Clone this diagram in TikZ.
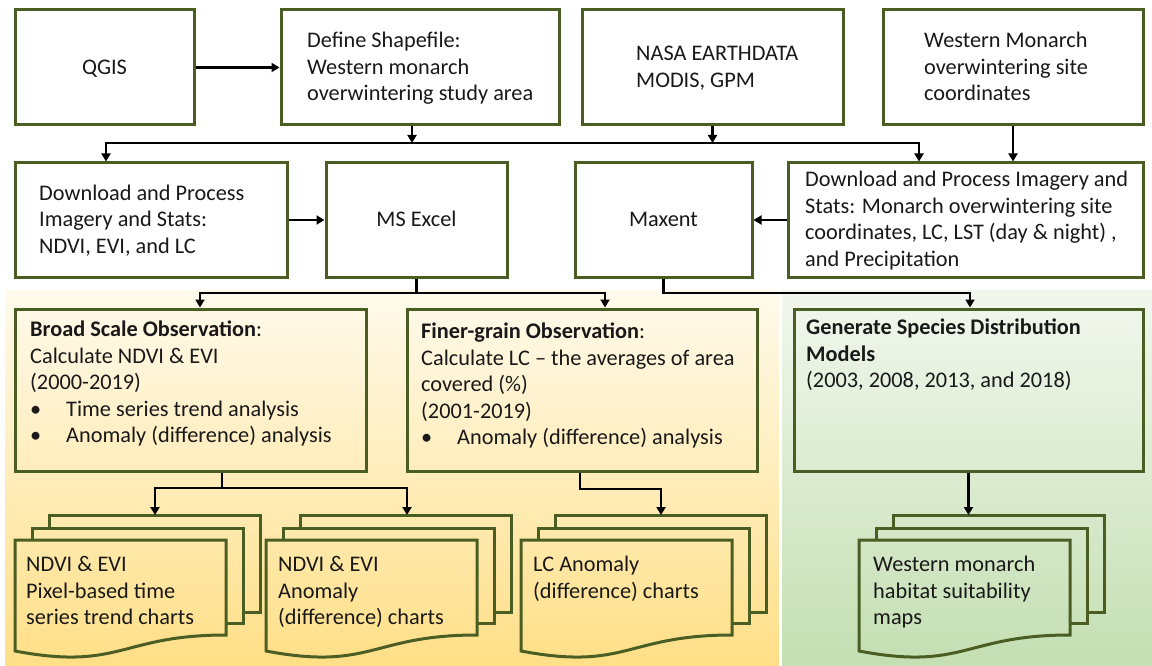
\documentclass[tikz,border=0pt]{standalone}
\usepackage{fontspec}
\setmainfont{Carlito}
\usetikzlibrary{arrows.meta}
\definecolor{boxc}{RGB}{74,94,35}
\definecolor{txt}{RGB}{25,25,25}
\definecolor{ytop}{RGB}{255,250,236}
\definecolor{ybot}{RGB}{255,223,135}
\definecolor{gtop}{RGB}{242,247,238}
\definecolor{gbot}{RGB}{196,223,178}
\newcommand{\tstrut}{\rule[-0.28em]{0pt}{1.16em}}
\newcommand{\mystack}[1]{%
  \draw[doc] ({#1+34},528) -- ({#1+34},515) -- ({#1+245},515) -- ({#1+245},612) -- ({#1+228},612);
  \draw[doc] ({#1+17},540) -- ({#1+17},528) -- ({#1+228},528) -- ({#1+228},623) -- ({#1+211},623);
  \draw[doc] (#1,540) -- ({#1+211},540) -- ({#1+211},635) .. controls ({#1+105.5},635) and ({#1+105.5},671) .. (#1,651) -- cycle;
}
\begin{document}
\begin{tikzpicture}[x=1pt,y=-1pt,
  every node/.style={font=\fontsize{22.3}{26.5}\selectfont, text=txt},
  box/.style={draw=boxc, line width=3pt, inner sep=0pt},
  doc/.style={draw=boxc, line width=3pt, line join=miter},
  conn/.style={draw=black, line width=2.5pt, line join=miter, -{Triangle[length=8pt,width=9pt]}},
  plainc/.style={draw=black, line width=2.5pt},
  ctext/.style={align=left, inner sep=0pt, anchor=west},
  ttext/.style={align=left, inner sep=0pt, anchor=north west},
]
\useasboundingbox (0,0) rectangle (1152,666);
\fill[white] (0,0) rectangle (1152,666);
\shade[top color=ytop,bottom color=ybot] (5,290) rectangle (779,666);
\shade[top color=gtop,bottom color=gbot] (782,290) rectangle (1152,666);

% ---- row 1
\node[box, minimum width=179pt, minimum height=115pt] (qgis) at (104.5,67.5) {\tstrut QGIS};
\node[box, minimum width=278pt, minimum height=115pt] (define) at (420,67.5) {};
\node[box, minimum width=261pt, minimum height=115pt] (nasa) at (712.5,67.5) {};
\node[box, minimum width=260pt, minimum height=115pt] (western) at (1013,67.5) {};
\node[ctext] (define-t) at (307,67.5) {\tstrut Define Shapefile:\\Western monarch\\\tstrut overwintering study area};
\node[ctext] (nasa-t) at (636,67.5) {\tstrut NASA EARTHDATA\\\tstrut MODIS, GPM};
\node[ctext] (western-t) at (924,67.5) {\tstrut Western Monarch\\overwintering site\\\tstrut coordinates};

% ---- row 2
\node[box, minimum width=272pt, minimum height=114pt] (dl1) at (151,220) {};
\node[box, minimum width=181pt, minimum height=114pt] (excel) at (416.5,220) {\tstrut MS Excel};
\node[box, minimum width=177pt, minimum height=114pt] (maxent) at (663.5,220) {\tstrut Maxent};
\node[box, minimum width=355pt, minimum height=114pt] (dl2) at (965.5,220) {};
\node[ctext] (dl1-t) at (39,220) {\tstrut Download and Process\\Imagery and Stats:\\\tstrut NDVI, EVI, and LC};
\node[ctext] (dl2-t) at (805,220) {\tstrut Download and Process Imagery and\\Stats: Monarch overwintering site\\coordinates, LC, LST (day \& night) ,\\\tstrut and Precipitation};

% ---- row 3
\node[box, minimum width=351pt, minimum height=162pt] (broad) at (190.5,390) {};
\node[box, minimum width=350pt, minimum height=162pt] (finer) at (582,390) {};
\node[box, minimum width=349pt, minimum height=162pt] (generate) at (968.5,390) {};
\node[ttext] (broad-t) at (30,317) {\tstrut\textbf{Broad Scale Observation}:\\Calculate NDVI \& EVI\\(2000-2019)\\\makebox[36pt][l]{•}Time series trend analysis\\\makebox[36pt][l]{•}Anomaly (difference) analysis};
\node[ttext] (finer-t) at (421,319) {\tstrut\textbf{Finer-grain Observation}:\\Calculate LC – the averages of area\\covered (\%)\\(2001-2019)\\\makebox[36pt][l]{•}Anomaly (difference) analysis};
\node[ttext] (generate-t) at (806,315) {\tstrut\textbf{Generate Species Distribution}\\\textbf{Models}\\(2003, 2008, 2013, and 2018)};

% ---- document stacks
\mystack{15}
\mystack{266}
\mystack{521}
\mystack{859}
\node[ttext] (d1-t) at (26,552) {\tstrut NDVI \& EVI\\Pixel-based time\\series trend charts};
\node[ttext] (d2-t) at (278,552) {\tstrut NDVI \& EVI\\Anomaly\\(difference) charts};
\node[ttext] (d3-t) at (533,552) {\tstrut LC Anomaly\\(difference) charts};
\node[ttext] (d4-t) at (873,552) {\tstrut Western monarch\\habitat suitability\\maps};

% ---- connector coordinates
\coordinate (j1) at (412,143);
\coordinate (jl) at (106,143);
\coordinate (jr) at (919,143);
\coordinate (bl) at (200,293);
\coordinate (br) at (605,293);
\coordinate (mj) at (970,293);
\coordinate (bj) at (222,488);
\coordinate (a1) at (155,488);
\coordinate (a2) at (407,488);
\coordinate (fj) at (580,489);
\coordinate (d1top) at (155,515);
\coordinate (d2top) at (407,515);
\coordinate (d3top) at (661,515);
\coordinate (d4top) at (generate.south |- 0,515);

% ---- connectors
\draw[conn] (qgis.east) -- (define.west);
\draw[conn] (define.south -| j1) -- (j1);
\draw[conn] (nasa.south) -- (nasa.south |- j1);
\draw[conn] (jr) -- (jl) -- (jl |- dl1.north);
\draw[conn] (jl) -- (jr) -- (jr |- dl2.north);
\draw[conn] (western.south) -- (western.south |- dl2.north);
\draw[conn] (dl1.east) -- (excel.west);
\draw[conn] (dl2.west) -- (maxent.east);
\draw[plainc] (excel.south) -- (excel.south |- bl);
\draw[conn] (br) -- (bl) -- (bl |- broad.north);
\draw[conn] (bl) -- (br) -- (br |- finer.north);
\draw[conn] (maxent.south) |- (mj) -- (mj |- generate.north);
\draw[plainc] (broad.south -| bj) -- (bj);
\draw[conn] (a2) -- (a1) -- (d1top);
\draw[conn] (a1) -- (a2) -- (d2top);
\draw[conn] (finer.south -| fj) |- (d3top |- fj) -- (d3top);
\draw[conn] (generate.south) -- (d4top);
\end{tikzpicture}
\end{document}
